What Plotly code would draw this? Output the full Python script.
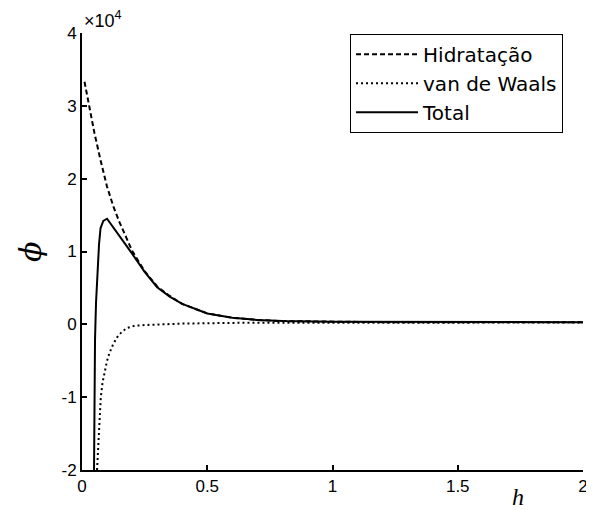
import plotly.graph_objects as go

# Values (phi in units of 10^4)
h_hid = [0.01, 0.03, 0.05, 0.075, 0.10, 0.125, 0.15, 0.20, 0.25, 0.30, 0.35, 0.40,
         0.50, 0.60, 0.70, 0.80, 1.00, 1.20, 1.50, 2.00]
phi_hid = [3.33, 2.98, 2.62, 2.24, 1.89, 1.62, 1.40, 1.01, 0.73, 0.52, 0.39, 0.28,
           0.15, 0.09, 0.06, 0.045, 0.035, 0.03, 0.03, 0.03]

h_vdw = [0.060, 0.066, 0.070, 0.075, 0.082, 0.090, 0.100, 0.110, 0.125, 0.140, 0.160,
         0.180, 0.210, 0.250, 0.300, 0.400, 0.600, 1.000, 1.500, 2.000]
phi_vdw = [-2.0, -1.6, -1.35, -1.0, -0.80, -0.64, -0.50, -0.39, -0.27, -0.18, -0.10,
           -0.05, -0.02, -0.01, 0.0, 0.01, 0.02, 0.02, 0.025, 0.025]

h_tot = [0.048, 0.050, 0.052, 0.056, 0.062, 0.068, 0.074, 0.085, 0.100, 0.115, 0.130,
         0.150, 0.175, 0.200, 0.250, 0.300, 0.350, 0.400, 0.500, 0.600, 0.700, 0.800,
         1.000, 1.500, 2.000]
phi_tot = [-2.0, -0.87, -0.2, 0.3, 0.75, 1.10, 1.32, 1.42, 1.45, 1.38, 1.30,
           1.22, 1.10, 0.97, 0.72, 0.51, 0.38, 0.28, 0.15, 0.09, 0.06, 0.045,
           0.035, 0.03, 0.03]

names = ["Hidratação", "van de Waals", "Total"]
x_ticks = [0, 0.5, 1, 1.5, 2]
x_ticktext = ["0", "0.5", "1", "1.5", "2"]
y_ticks = [-2, -1, 0, 1, 2, 3, 4]
y_ticktext = ["-2", "-1", "0", "1", "2", "3", "4"]

FONT = "Liberation Sans, Arial, sans-serif"

fig = go.Figure()
fig.add_trace(go.Scatter(x=h_hid, y=phi_hid, mode="lines", name=names[0],
                         line=dict(color="black", width=2, dash="5px,3px")))
fig.add_trace(go.Scatter(x=h_vdw, y=phi_vdw, mode="lines", name=names[1],
                         line=dict(color="black", width=2, dash="2px,3px")))
fig.add_trace(go.Scatter(x=h_tot, y=phi_tot, mode="lines", name=names[2],
                         line=dict(color="black", width=2)))

# page body has an 8px margin, so the figure is a bit smaller than the window
fig.update_layout(
    width=586, height=502,
    margin=dict(l=74, r=6, t=25, b=40),
    paper_bgcolor="white", plot_bgcolor="white",
    font=dict(family=FONT, color="black", size=17),
    showlegend=True,
    legend=dict(x=0.535, y=0.998, xanchor="left", yanchor="top",
                bordercolor="black", borderwidth=1, bgcolor="white",
                font=dict(size=20, family="DejaVu Sans, sans-serif"), tracegroupgap=0,
                itemwidth=62),
    xaxis=dict(range=[0, 2], tickvals=x_ticks, ticktext=x_ticktext,
               showline=True, linecolor="black", linewidth=2, mirror=False,
               ticks="inside", ticklen=5, tickwidth=1.5, tickcolor="black",
               showgrid=False, zeroline=False),
    yaxis=dict(range=[-2, 4], tickvals=y_ticks, ticktext=y_ticktext,
               showline=True, linecolor="black", linewidth=2, mirror=False,
               ticks="inside", ticklen=5, tickwidth=1.5, tickcolor="black",
               showgrid=False, zeroline=False),
    annotations=[
        dict(text="×10<sup>4</sup>", xref="paper", yref="paper", x=0.0, y=1.0,
             xanchor="left", yanchor="bottom", showarrow=False,
             font=dict(size=18, family=FONT), yshift=0),
        dict(text="<i>h</i>", xref="paper", yref="paper", x=0.87, y=0,
             xanchor="center", yanchor="top", showarrow=False,
             font=dict(size=24, family="Liberation Serif, serif"), yshift=-12),
        dict(text="<i>ϕ</i>", xref="paper", yref="paper", x=0, y=(470 - 252) / 437,
             xanchor="center", yanchor="middle", showarrow=False, textangle=-90,
             font=dict(size=30, family="DejaVu Serif, serif"), xshift=-52),
    ],
)

fig.write_html("out.html")
